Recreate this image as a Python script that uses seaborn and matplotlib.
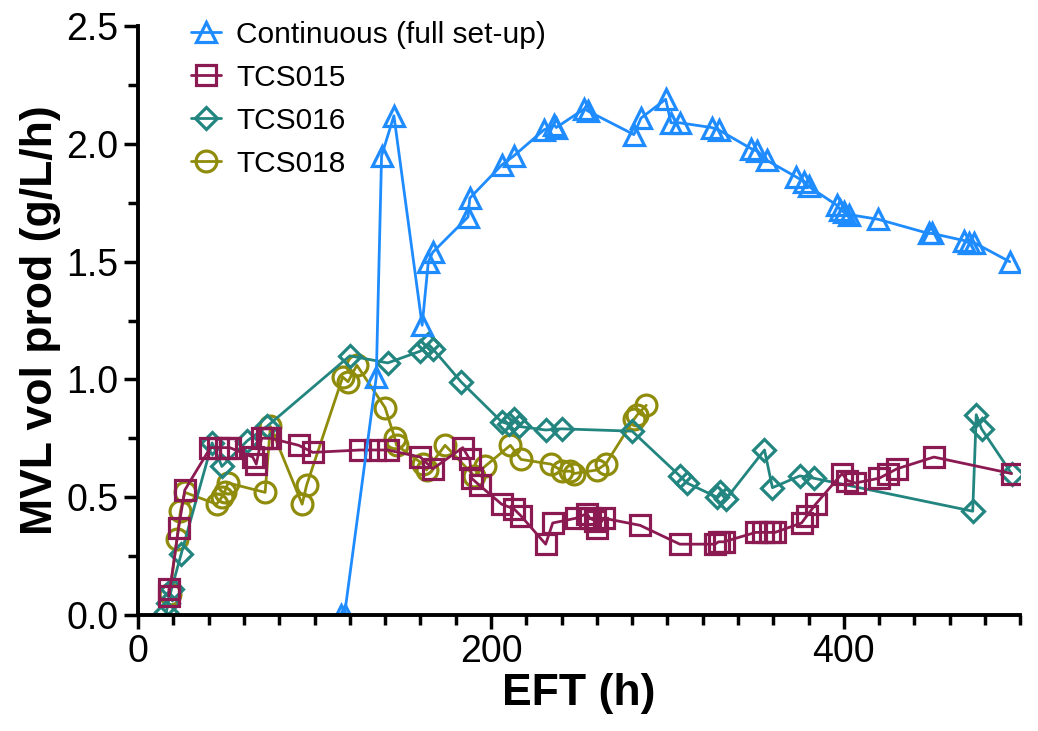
import pandas as pd
import matplotlib.pyplot as plt
import seaborn as sns
from matplotlib.ticker import MultipleLocator

# Continuous (full set-up)
cont_x = [115, 117, 135, 138, 145, 161, 164.5, 167, 187, 188, 206, 213, 230, 236, 237,
          253, 255, 281, 285, 299, 302, 307, 325, 329, 347.5, 351, 356.5, 373, 377.5,
          380, 396, 398, 400, 403, 419.5, 448, 450, 468, 471, 474, 494]
cont_y = [0.0, 0.0, 1.01, 1.95, 2.12, 1.23, 1.50, 1.54, 1.69, 1.77, 1.91, 1.95, 2.06, 2.08, 2.07,
          2.15, 2.14, 2.04, 2.11, 2.19, 2.09, 2.09, 2.07, 2.06, 1.98, 1.97, 1.93, 1.86, 1.84,
          1.82, 1.74, 1.72, 1.71, 1.70, 1.68, 1.62, 1.62, 1.59, 1.58, 1.58, 1.50]

# TCS015
tcs015_x = [17.5, 17.5, 23, 26.5, 41, 45.5, 50, 52, 65, 67, 70, 73, 75, 91, 99, 126, 134,
            141.5, 160, 167, 184, 188, 189, 193.5, 206, 213, 217, 231, 235, 248, 254.5,
            256, 259, 260, 264, 284.5, 307, 327, 329, 332, 350, 354, 358, 361, 376, 379,
            384, 399, 402, 406.5, 420, 425, 430, 451, 495]
tcs015_y = [0.11, 0.08, 0.37, 0.53, 0.71, 0.71, 0.71, 0.71, 0.67, 0.64, 0.75, 0.75, 0.75, 0.72,
            0.69, 0.70, 0.70, 0.70, 0.67, 0.62, 0.71, 0.66, 0.58, 0.55, 0.47, 0.45, 0.42,
            0.30, 0.39, 0.41, 0.43, 0.41, 0.40, 0.37, 0.41, 0.38, 0.30, 0.30, 0.31, 0.31,
            0.35, 0.35, 0.35, 0.35, 0.39, 0.42, 0.47, 0.60, 0.57, 0.56, 0.58, 0.60, 0.62,
            0.67, 0.60]

# TCS016
tcs016_x = [16, 17, 19, 24.5, 42, 47.5, 62, 73, 120, 141.5, 160, 164.5, 167, 183, 206, 210,
            213, 216, 231, 240, 280, 307, 311, 328, 330, 333, 355, 359.5, 375, 383, 473,
            475, 478, 495]
tcs016_y = [0.01, 0.05, 0.11, 0.26, 0.73, 0.63, 0.74, 0.80, 1.10, 1.07, 1.12, 1.15, 1.13, 0.99,
            0.82, 0.81, 0.83, 0.80, 0.785, 0.79, 0.78, 0.59, 0.56, 0.50, 0.52, 0.49, 0.70,
            0.54, 0.59, 0.58, 0.44, 0.85, 0.79, 0.60]

# TCS018
tcs018_x = [18, 22, 24, 26.5, 44.5, 47.5, 49, 51, 72, 75, 93, 95.5, 116, 119, 124, 140,
            145.5, 146.5, 161.5, 163.5, 174, 190.5, 196.5, 211, 217, 234, 240.5, 245, 247,
            260, 265, 281, 283, 288]
tcs018_y = [0.09, 0.32, 0.44, 0.52, 0.47, 0.50, 0.52, 0.56, 0.52, 0.80, 0.47, 0.55, 1.01, 0.99,
            1.06, 0.88, 0.75, 0.72, 0.64, 0.615, 0.72, 0.59, 0.63, 0.72, 0.66, 0.64, 0.61,
            0.61, 0.60, 0.615, 0.64, 0.83, 0.85, 0.89]

series = [
    ("TCS018", tcs018_x, tcs018_y, "#8f8c0c", "o"),
    ("TCS016", tcs016_x, tcs016_y, "#23857f", "D"),
    ("TCS015", tcs015_x, tcs015_y, "#8c1a52", "s"),
    ("Continuous (full set-up)", cont_x, cont_y, "#1e8bff", "^"),
]
marker_size = {"o": 15, "D": 11, "s": 14, "^": 15}

sns.set_style("ticks")
plt.rcParams['font.family'] = ['Liberation Sans', 'DejaVu Sans']
plt.rcParams['text.color'] = 'black'
plt.rcParams['axes.labelcolor'] = 'black'

fig = plt.figure(figsize=(10.38, 7.31), dpi=100)
ax = fig.add_axes([0.133, 0.159, 0.85, 0.805])

for name, xs, ys, color, mk in series:
    df = pd.DataFrame({"EFT": xs, "prod": ys})
    sns.lineplot(data=df, x="EFT", y="prod", ax=ax, estimator=None, sort=False,
                 color=color, marker=mk, markersize=marker_size[mk],
                 markerfacecolor="none", markeredgecolor=color,
                 markeredgewidth=2.3, linewidth=2.0, label=name)

ax.set_xlim(0, 500)
ax.set_ylim(0, 2.5)
ax.xaxis.set_major_locator(MultipleLocator(200))
ax.xaxis.set_minor_locator(MultipleLocator(20))
ax.yaxis.set_major_locator(MultipleLocator(0.5))
ax.yaxis.set_minor_locator(MultipleLocator(0.25))
ax.yaxis.set_major_formatter(plt.FormatStrFormatter('%.1f'))

sns.despine(ax=ax)
for side in ["left", "bottom"]:
    ax.spines[side].set_linewidth(2.8)
    ax.spines[side].set_color("black")
ax.tick_params(which="major", direction="out", length=10, width=2.5,
               labelsize=27, colors="black", labelcolor="black", pad=4)
ax.tick_params(which="minor", direction="out", length=7, width=2.5, colors="black")

ax.set_xlabel("EFT (h)", fontsize=32, fontweight="bold", labelpad=2, color="black")
ax.set_ylabel("MVL vol prod (g/L/h)", fontsize=32, fontweight="bold", labelpad=4,
              color="black")

handles, labels = ax.get_legend_handles_labels()
order = [3, 2, 1, 0]
leg = ax.legend([handles[i] for i in order], [labels[i] for i in order],
                loc="upper left", bbox_to_anchor=(0.03, 1.055), frameon=False,
                fontsize=21.5, handlelength=1.0, handletextpad=0.5, labelspacing=0.5)
for t in leg.get_texts():
    t.set_color("black")

plt.savefig("out.png", dpi=100)
